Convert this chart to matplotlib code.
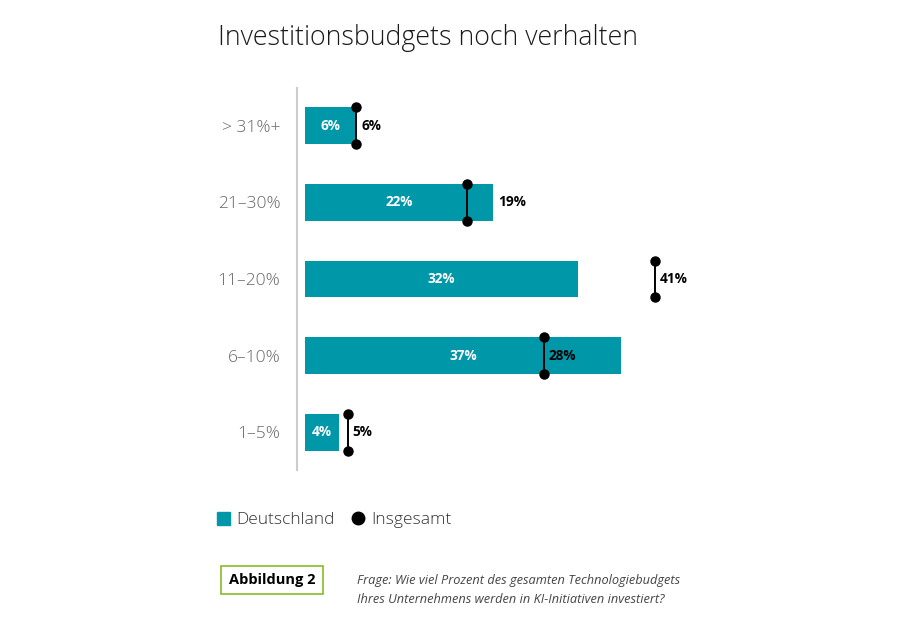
import matplotlib
matplotlib.use("Agg")
import matplotlib.pyplot as plt
from matplotlib.patches import Rectangle
from matplotlib.lines import Line2D

categories = ["> 31%+", "21–30%", "11–20%", "6–10%", "1–5%"]
deutschland = [6, 22, 32, 37, 4]
insgesamt = [6, 19, 41, 28, 5]
# label of Insgesamt sits after the bar instead of after the marker
label_after_bar = [False, True, False, False, False]

teal = "#0097A9"
green = "#86BC25"
plt.rcParams["font.family"] = ["Open Sans", "DejaVu Sans"]

fig = plt.figure(figsize=(9, 6.3), dpi=100)
ax = fig.add_axes([297 / 900, 160 / 630, 510 / 900, 382 / 630])

pos = list(range(len(categories)))
bh = 0.48
ax.barh(pos, deutschland, height=bh, color=teal, zorder=2)
for i, v in enumerate(deutschland):
    ax.text(v / 2, i, f"{v}%", color="white", fontsize=9.8, fontweight="bold",
            ha="center", va="center", zorder=4)

for i, v in enumerate(insgesamt):
    ax.plot([v, v], [i - bh / 2, i + bh / 2], color="black", lw=1.4, zorder=3)
    ax.plot([v, v], [i - bh / 2, i + bh / 2], "o", color="black", ms=6.5, zorder=3)
    lx = max(v, deutschland[i]) if label_after_bar[i] else v
    ax.annotate(f"{v}%", (lx, i), xytext=(3.5, 0), textcoords="offset points",
                fontsize=9.8, fontweight="bold", color="black", va="center", zorder=4)

ax.set_xlim(-0.94, 58.8)
ax.set_ylim(-0.49, 4.49)
ax.invert_yaxis()
ax.set_yticks(pos)
ax.set_yticklabels(categories, fontsize=12.5, color="#666666", fontweight="light")
ax.tick_params(axis="y", length=0, pad=12)
ax.set_xticks([])
for s in ["top", "right", "bottom"]:
    ax.spines[s].set_visible(False)
ax.spines["left"].set_color("#cccccc")
ax.spines["left"].set_linewidth(1.5)

fig.text(218 / 900, 1 - 38 / 630, "Investitionsbudgets noch verhalten", fontsize=19.3,
         fontweight="light", color="#1a1a1a", va="center", ha="left")

# legend
handles = [Rectangle((0, 0), 1, 1, color=teal),
           Line2D([], [], marker="o", color="black", ls="none", ms=9)]
fig.legend(handles, ["Deutschland", "Insgesamt"], loc="center left",
           bbox_to_anchor=(217 / 900, 1 - 520 / 630), ncol=2, frameon=False,
           fontsize=12.5, handlelength=0.75, handleheight=0.75, handletextpad=0.35,
           columnspacing=1.0, borderaxespad=0, borderpad=0)
for t in fig.legends[0].get_texts():
    t.set_color("#333333")
    t.set_fontweight("light")

fig.text(272 / 900, 1 - 580 / 630, "Abbildung 2", fontsize=10.5, fontweight="bold",
         ha="center", va="center", color="black",
         bbox=dict(boxstyle="square,pad=0.5", fc="white", ec=green, lw=1.2))
fig.text(357 / 900, 1 - 590 / 630,
         "Frage: Wie viel Prozent des gesamten Technologiebudgets\n"
         "Ihres Unternehmens werden in KI-Initiativen investiert?",
         fontsize=9.2, style="italic", color="#444444", va="center", ha="left",
         linespacing=1.6)

fig.savefig("out.png", dpi=100, facecolor="white")
